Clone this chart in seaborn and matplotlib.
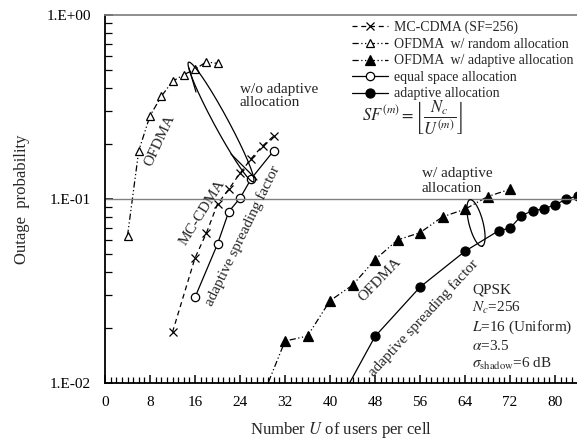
import numpy as np
import pandas as pd
import matplotlib
matplotlib.use('Agg')
import matplotlib.pyplot as plt
import seaborn as sns
from matplotlib.lines import Line2D

# data
mc_x = [12, 16, 18, 20, 22, 24, 26, 28, 30]
mc_y = [0.0189, 0.0478, 0.065, 0.094, 0.113, 0.138, 0.166, 0.194, 0.22]

ofdma_rand_x = [4, 6, 8, 10, 12, 14, 16, 18, 20]
ofdma_rand_y = [0.063, 0.183, 0.283, 0.361, 0.436, 0.474, 0.507, 0.556, 0.546]

ofdma_adp_x = [28, 32, 36, 40, 44, 48, 52, 56, 60, 64, 68, 72]
ofdma_adp_y = [0.0084, 0.0169, 0.018, 0.028, 0.034, 0.0468, 0.0599, 0.0656, 0.080, 0.088, 0.103, 0.113]

eq_x = [16, 20, 22, 24, 26, 30]
eq_y = [0.0292, 0.0569, 0.0853, 0.101, 0.129, 0.183]

adp_x = [40, 48, 56, 64, 70, 72, 74, 76, 78, 80, 82, 84]
adp_y = [0.0064, 0.0179, 0.0332, 0.0520, 0.0673, 0.0693, 0.0811, 0.0864, 0.0883, 0.0931, 0.0996, 0.104]

labels = ['MC-CDMA (SF=256)', 'OFDMA  w/ random allocation', 'OFDMA  w/ adaptive allocation',
          'equal space allocation', 'adaptive allocation']

sns.set_theme(style='ticks')
plt.rcParams['font.family'] = ['Liberation Serif', 'DejaVu Serif']
plt.rcParams['mathtext.fontset'] = 'stix'

W, H = 577, 446
fig = plt.figure(figsize=(W / 100, H / 100), dpi=100)
# axes box in pixels: left 105, right 577, top 15, bottom 383
ax = fig.add_axes([105 / W, (H - 383) / H, 472.5 / W, 368 / H])

lw = 0.9
ddot = (5, 2, 1, 2, 1, 2)
styles = [
    dict(marker='x', dashes=(4, 3), mfc='black', ms=6),
    dict(marker='^', dashes=ddot, mfc='white', ms=6),
    dict(marker='^', dashes=ddot, mfc='black', ms=6.5),
    dict(marker='o', dashes=(), mfc='white', ms=6),
    dict(marker='o', dashes=(), mfc='black', ms=6.5),
]
series = [(mc_x, mc_y), (ofdma_rand_x, ofdma_rand_y), (ofdma_adp_x, ofdma_adp_y),
          (eq_x, eq_y), (adp_x, adp_y)]

handles = []
for (xs, ys), st, lab in zip(series, styles, labels):
    df = pd.DataFrame({'U': xs, 'P': ys})
    line_kw = dict(color='black', lw=lw, marker=st['marker'], markersize=st['ms'],
                   markerfacecolor=st['mfc'], markeredgecolor='black', markeredgewidth=0.9)
    sns.lineplot(data=df, x='U', y='P', ax=ax, estimator=None, sort=False, **line_kw)
    ln = ax.lines[-1]
    if st['dashes']:
        ln.set_dashes(st['dashes'])
    h = Line2D([], [], **line_kw)
    if st['dashes']:
        h.set_dashes(st['dashes'])
    handles.append(h)

ax.set_yscale('log')
ax.set_xlim(0, 84)
ax.set_ylim(0.01, 1)
ax.set_yticks([0.01, 0.1, 1], ['1.E-02', '1.E-01', '1.E+00'])
ax.set_xticks(np.arange(0, 81, 8))
ax.set_xticks(np.arange(0, 85, 1), minor=True)
ax.tick_params(axis='both', which='major', direction='in', length=6, width=1.1, labelsize=11,
               color='black', labelcolor='black', pad=9)
ax.tick_params(axis='x', which='minor', direction='in', length=4, width=0.9, color='black')
ax.tick_params(axis='y', which='minor', direction='in', length=5, width=0.9, color='black')
ax.tick_params(axis='y', which='major', pad=10)
ax.axhline(0.1, color='#808080', lw=1)
ax.spines['right'].set_visible(False)
ax.spines['top'].set_color('#808080')
ax.spines['left'].set_color('black')
ax.spines['bottom'].set_color('black')
ax.spines['left'].set_linewidth(1.3)
ax.spines['bottom'].set_linewidth(1.3)

ax.set_xlabel('Number $U$ of users per cell', fontsize=12, labelpad=8)
ax.set_ylabel('Outage  probability', fontsize=12, labelpad=12)


def pix(px, py):
    return (px - 105) / 472.5, (383 - py) / 368


leg = ax.legend(handles, labels, loc='upper left', bbox_to_anchor=pix(352, 21), frameon=False,
                fontsize=10, handlelength=2.6, handletextpad=0.4, labelspacing=0.25,
                borderpad=0, borderaxespad=0)

ax.text(*pix(412, 118), r'$SF^{(m)}=\left\lfloor\dfrac{N_c}{U^{(m)}}\right\rfloor$',
        transform=ax.transAxes, ha='center', va='center', fontsize=12)

ax.text(*pix(472, 284),
        'QPSK\n$N_c$=256\n$L$=16 (Uniform)\n$\\alpha$=3.5\n$\\sigma_{\\rm shadow}$=6 dB',
        transform=ax.transAxes, ha='left', va='top', fontsize=11, linespacing=1.25)

ax.text(*pix(240, 96), 'w/o adaptive\nallocation', transform=ax.transAxes,
        ha='left', va='center', fontsize=11, linespacing=1.1)
ax.text(*pix(422, 181), 'w/ adaptive\nallocation', transform=ax.transAxes,
        ha='left', va='center', fontsize=11, linespacing=1.1)

rot_texts = [
    ('OFDMA', 160, 141, 65),
    ('MC-CDMA', 202, 213, 58),
    ('adaptive spreading factor', 243, 236, 64),
    ('OFDMA', 380, 280, 46),
    ('adaptive spreading factor', 423, 318, 47),
]
for s, px, py, ang in rot_texts:
    ax.text(*pix(px, py), s, transform=ax.transAxes, ha='center', va='center',
            rotation=ang, rotation_mode='anchor', fontsize=11)


def ellipse(cx, cy, a, b, p0, p1):
    # ellipse in pixel space (y down) along direction p0->p1
    d = np.array(p1, float) - np.array(p0, float)
    d /= np.hypot(*d)
    n = np.array([-d[1], d[0]])
    t = np.linspace(0, 2 * np.pi, 200)
    pts = np.array([cx, cy])[:, None] + a * np.cos(t) * d[:, None] + b * np.sin(t) * n[:, None]
    fx, fy = pix(pts[0], pts[1])
    ax.plot(fx, fy, transform=ax.transAxes, color='black', lw=0.9, clip_on=False)


ellipse(221, 122, 68, 7, (188, 62), (253, 182))
ellipse(476, 223, 24, 7, (470, 200), (482, 246))
for (x0, y0), (x1, y1) in [((189, 68), (196, 92)), ((231, 154), (257, 180))]:
    fx, fy = pix(np.array([x0, x1]), np.array([y0, y1]))
    ax.plot(fx, fy, transform=ax.transAxes, color='black', lw=0.9)

fig.savefig('out.png', dpi=100)
